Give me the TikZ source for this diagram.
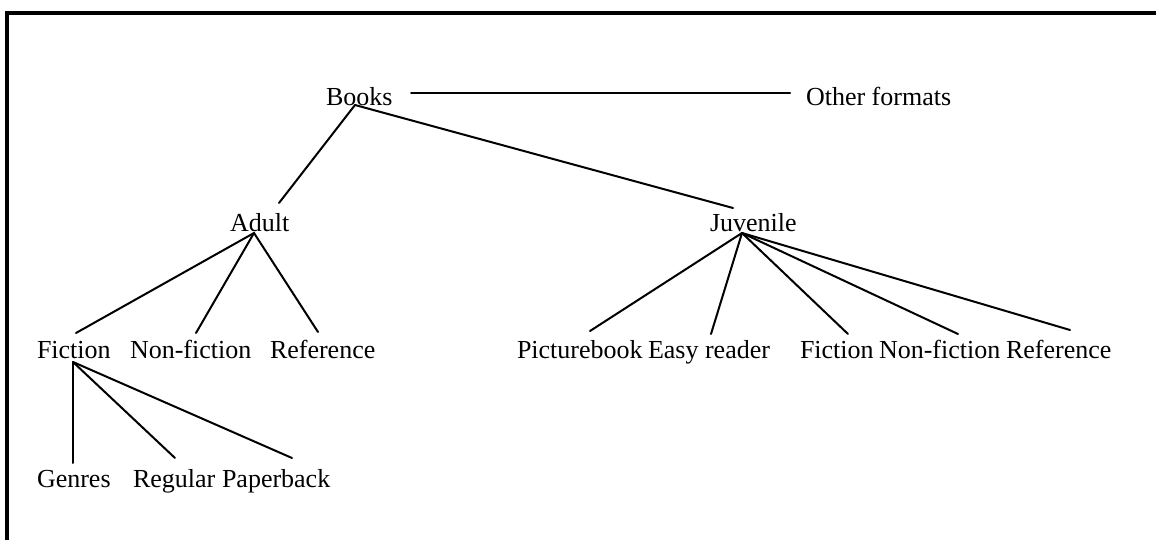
\documentclass[tikz,border=0pt]{standalone}
\usepackage{fontspec}
\setmainfont{Liberation Serif}
\usetikzlibrary{calc}
\begin{document}
\begin{tikzpicture}[x=0.5pt,y=-0.5pt,
  lbl/.style={inner sep=0pt,outer sep=0pt,anchor=base west,font=\fontsize{13}{15}\selectfont},
  conn/.style={line width=1pt,line cap=round},
  frame/.style={line width=2pt,line join=miter}]
\useasboundingbox (0,0) rectangle (1156,540);
\draw[frame] (7,545) -- (7,12.75) -- (1165,12.75);
% nodes
\node[lbl] (books) at (326,105) {Books};
\node[lbl] (other) at (806,105) {Other formats};
\node[lbl] (adult) at (230,231) {Adult};
\node[lbl] (juv) at (710,231) {Juvenile};
\node[lbl] (fic) at (37,358) {Fiction};
\node[lbl] (nonf) at (130,358) {Non-fiction};
\node[lbl] (ref) at (270,358) {Reference};
\node[lbl] (pic) at (517,358) {Picturebook};
\node[lbl] (easy) at (648,358) {Easy reader};
\node[lbl] (jfic) at (800,358) {Fiction};
\node[lbl] (jnon) at (879,358) {Non-fiction};
\node[lbl] (jref) at (1006,358) {Reference};
\node[lbl] (genres) at (37,487) {Genres};
\node[lbl] (reg) at (133,487) {Regular};
\node[lbl] (pap) at (222,487) {Paperback};
% connectors
\draw[conn] ($(books.base west)+(85,-12)$) -- ($(other.base west)+(-16,-12)$);
\draw[conn] ($(books.base west)+(29,0)$) -- ($(adult.base west)+(49,-28)$);
\draw[conn] ($(books.base west)+(29,0)$) -- ($(juv.base west)+(23,-23)$);
\draw[conn] ($(adult.base west)+(24,2)$) -- ($(fic.base west)+(39,-25)$);
\draw[conn] ($(adult.base west)+(24,2)$) -- ($(nonf.base west)+(66,-25)$);
\draw[conn] ($(adult.base west)+(24,2)$) -- ($(ref.base west)+(48,-26)$);
\draw[conn] ($(juv.base west)+(32,2)$) -- ($(pic.base west)+(73,-27)$);
\draw[conn] ($(juv.base west)+(32,2)$) -- ($(easy.base west)+(63,-24)$);
\draw[conn] ($(juv.base west)+(32,2)$) -- ($(jfic.base west)+(48,-24)$);
\draw[conn] ($(juv.base west)+(32,2)$) -- ($(jnon.base west)+(79,-24)$);
\draw[conn] ($(juv.base west)+(32,2)$) -- ($(jref.base west)+(64,-28)$);
\draw[conn] ($(fic.base west)+(36,4)$) -- ($(genres.base west)+(36,-24)$);
\draw[conn] ($(fic.base west)+(36,4)$) -- ($(reg.base west)+(42,-29)$);
\draw[conn] ($(fic.base west)+(36,4)$) -- ($(pap.base west)+(70,-29)$);
\end{tikzpicture}
\end{document}
